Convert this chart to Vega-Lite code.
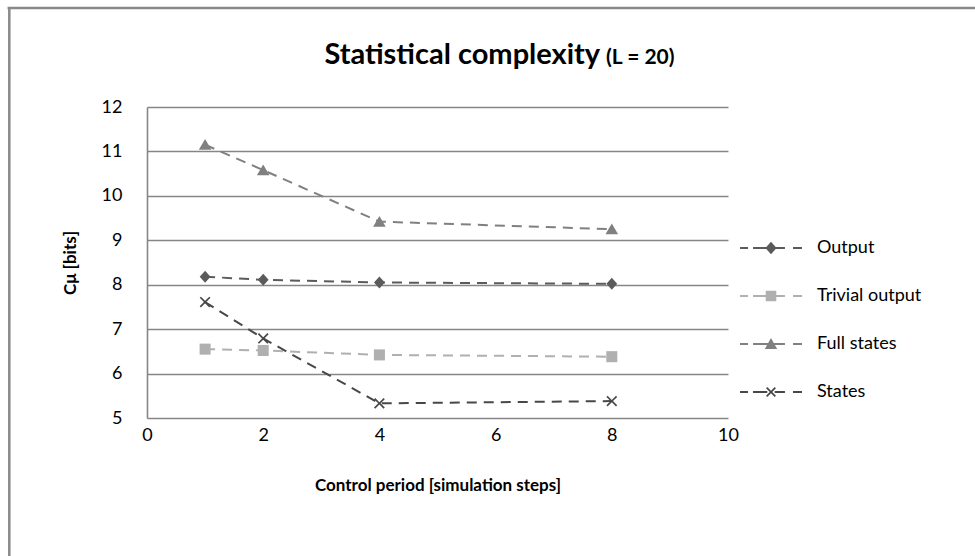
{
  "$schema": "https://vega.github.io/schema/vega-lite/v6.json",
  "width": 581,
  "height": 311,
  "autosize": {"type": "none"},
  "padding": {"left": 147, "top": 107, "right": 247, "bottom": 138},
  "background": "white",
  "config": {
    "font": "Lato",
    "view": {"stroke": null},
    "axisX": {
      "grid": false,
      "ticks": false,
      "domain": false,
      "labelFont": "Lato",
      "labelFontSize": 18,
      "labelColor": "#000000",
      "labelPadding": 8,
      "labelFlush": false,
      "labelOverlap": false,
      "titleFont": "Lato",
      "titleFontSize": 17,
      "titleFontWeight": "bold",
      "titleColor": "#000000",
      "titlePadding": 33
    },
    "axisY": {
      "grid": true,
      "gridColor": "#868686",
      "gridWidth": 1.3,
      "ticks": false,
      "domain": true,
      "domainColor": "#868686",
      "domainWidth": 1.6,
      "labelFont": "Lato",
      "labelFontSize": 18,
      "labelColor": "#000000",
      "labelPadding": 25,
      "titleFont": "Lato",
      "titleFontSize": 17,
      "titleFontWeight": "bold",
      "titleColor": "#000000",
      "titlePadding": 22
    },
    "legend": {
      "orient": "none",
      "legendX": 593,
      "legendY": 110,
      "padding": 0,
      "labelFont": "Lato",
      "labelFontSize": 18,
      "labelColor": "#000000",
      "labelOffset": 15,
      "symbolSize": 3844,
      "rowPadding": 8,
      "symbolStrokeWidth": 0,
      "symbolOpacity": 1
    }
  },
  "datasets": {
    "series": [
      {"period": 1, "bits": 8.18, "series": "Output"},
      {"period": 2, "bits": 8.11, "series": "Output"},
      {"period": 4, "bits": 8.05, "series": "Output"},
      {"period": 8, "bits": 8.02, "series": "Output"},
      {"period": 1, "bits": 6.55, "series": "Trivial output"},
      {"period": 2, "bits": 6.52, "series": "Trivial output"},
      {"period": 4, "bits": 6.42, "series": "Trivial output"},
      {"period": 8, "bits": 6.38, "series": "Trivial output"},
      {"period": 1, "bits": 11.15, "series": "Full states"},
      {"period": 2, "bits": 10.58, "series": "Full states"},
      {"period": 4, "bits": 9.42, "series": "Full states"},
      {"period": 8, "bits": 9.25, "series": "Full states"},
      {"period": 1, "bits": 7.61, "series": "States"},
      {"period": 2, "bits": 6.79, "series": "States"},
      {"period": 4, "bits": 5.33, "series": "States"},
      {"period": 8, "bits": 5.38, "series": "States"}
    ],
    "single": [{}]
  },
  "resolve": {
    "scale": {"shape": "independent", "color": "independent"},
    "legend": {"shape": "independent", "color": "independent"}
  },
  "layer": [
    {
      "data": {"name": "series"},
      "mark": {"type": "line", "strokeWidth": 2, "strokeDash": [10, 7]},
      "encoding": {
        "x": {
          "field": "period",
          "type": "quantitative",
          "scale": {"domain": [0, 10], "nice": false},
          "title": "Control period [simulation steps]",
          "axis": {"values": [0, 2, 4, 6, 8, 10], "format": "d"}
        },
        "y": {
          "field": "bits",
          "type": "quantitative",
          "scale": {"domain": [5, 12], "nice": false},
          "title": "Cμ [bits]",
          "axis": {"values": [5, 6, 7, 8, 9, 10, 11, 12], "format": "d"}
        },
        "detail": {"field": "series"},
        "stroke": {
          "field": "series",
          "type": "nominal",
          "scale": {
            "domain": ["Output", "Trivial output", "Full states", "States"],
            "range": ["#5b5b5b", "#b0b0b0", "#808080", "#484848"]
          },
          "legend": null
        }
      }
    },
    {
      "data": {"name": "series"},
      "mark": {"type": "point", "filled": true, "opacity": 1, "size": 144, "strokeWidth": 0},
      "encoding": {
        "x": {"field": "period", "type": "quantitative", "title": "Control period [simulation steps]"},
        "y": {"field": "bits", "type": "quantitative", "title": "Cμ [bits]"},
        "fill": {
          "field": "series",
          "type": "nominal",
          "scale": {
            "domain": ["Output", "Trivial output", "Full states", "States"],
            "range": ["#5b5b5b", "#b0b0b0", "#808080", "#484848"]
          },
          "legend": null
        },
        "shape": {
          "field": "series",
          "type": "nominal",
          "scale": {
            "domain": ["Output", "Trivial output", "Full states", "States"],
            "range": [
              "M0,-1L0.9,0L0,1L-0.9,0Z",
              "M-0.92,-0.92H0.92V0.92H-0.92Z",
              "M0,-0.95L1.05,0.85L-1.05,0.85Z",
              "M-0.9,-0.7L-0.7,-0.9L0,-0.2L0.7,-0.9L0.9,-0.7L0.2,0L0.9,0.7L0.7,0.9L0,0.2L-0.7,0.9L-0.9,0.7L-0.2,0Z"
            ]
          },
          "legend": null
        }
      }
    },
    {
      "data": {"name": "series"},
      "mark": {"type": "point", "filled": true, "opacity": 0, "size": 144},
      "encoding": {
        "x": {"field": "period", "type": "quantitative", "title": "Control period [simulation steps]"},
        "y": {"field": "bits", "type": "quantitative", "title": "Cμ [bits]"},
        "color": {
          "field": "series",
          "type": "nominal",
          "scale": {
            "domain": ["Output", "Trivial output", "Full states", "States"],
            "range": ["#5b5b5b", "#b0b0b0", "#808080", "#484848"]
          },
          "legend": {"title": null, "rowPadding": 8}
        },
        "shape": {
          "field": "series",
          "type": "nominal",
          "scale": {
            "domain": ["Output", "Trivial output", "Full states", "States"],
            "range": [
              "M-1,-0.035H-0.74V0.035H-1Z M-0.58,-0.035H-0.1V0.035H-0.58Z M0.1,-0.035H0.45V0.035H0.1Z M0.71,-0.035H1V0.035H0.71Z M0,-0.2L0.18,0L0,0.2L-0.18,0Z",
              "M-1,-0.035H-0.74V0.035H-1Z M-0.58,-0.035H-0.1V0.035H-0.58Z M0.1,-0.035H0.45V0.035H0.1Z M0.71,-0.035H1V0.035H0.71Z M-0.17,-0.17H0.17V0.17H-0.17Z",
              "M-1,-0.035H-0.74V0.035H-1Z M-0.58,-0.035H-0.1V0.035H-0.58Z M0.1,-0.035H0.45V0.035H0.1Z M0.71,-0.035H1V0.035H0.71Z M0,-0.19L0.2,0.16L-0.2,0.16Z",
              "M-1,-0.035H-0.74V0.035H-1Z M-0.58,-0.035H-0.12V0.035H-0.58Z M0.12,-0.035H0.45V0.035H0.12Z M0.71,-0.035H1V0.035H0.71Z M-0.16,-0.12L-0.12,-0.16L0,-0.04L0.12,-0.16L0.16,-0.12L0.04,0L0.16,0.12L0.12,0.16L0,0.04L-0.12,0.16L-0.16,0.12L-0.04,0Z"
            ]
          },
          "legend": {"title": null, "rowPadding": 8}
        }
      }
    },
    {
      "data": {"name": "single"},
      "mark": {"type": "rule", "color": "#898989", "strokeWidth": 2.5},
      "encoding": {
        "x": {"datum": -2.37, "type": "quantitative"},
        "y": {"datum": 1.5, "type": "quantitative"},
        "y2": {"datum": 14.23}
      }
    },
    {
      "data": {"name": "single"},
      "mark": {"type": "rule", "color": "#898989", "strokeWidth": 2.5},
      "encoding": {
        "x": {"datum": -2.4, "type": "quantitative"},
        "x2": {"datum": 14.5},
        "y": {"datum": 14.23, "type": "quantitative"}
      }
    },
    {
      "data": {"name": "single"},
      "mark": {
        "type": "text",
        "text": "Statistical complexity",
        "align": "right",
        "baseline": "alphabetic",
        "font": "Lato",
        "fontSize": 29,
        "fontWeight": "bold",
        "color": "#000000"
      },
      "encoding": {
        "x": {"datum": 7.8, "type": "quantitative"},
        "y": {"datum": 12.97, "type": "quantitative"}
      }
    },
    {
      "data": {"name": "single"},
      "mark": {
        "type": "text",
        "text": "(L = 20)",
        "align": "left",
        "baseline": "alphabetic",
        "font": "Lato",
        "fontSize": 21,
        "fontWeight": "bold",
        "color": "#000000"
      },
      "encoding": {
        "x": {"datum": 7.9, "type": "quantitative"},
        "y": {"datum": 12.97, "type": "quantitative"}
      }
    }
  ]
}
